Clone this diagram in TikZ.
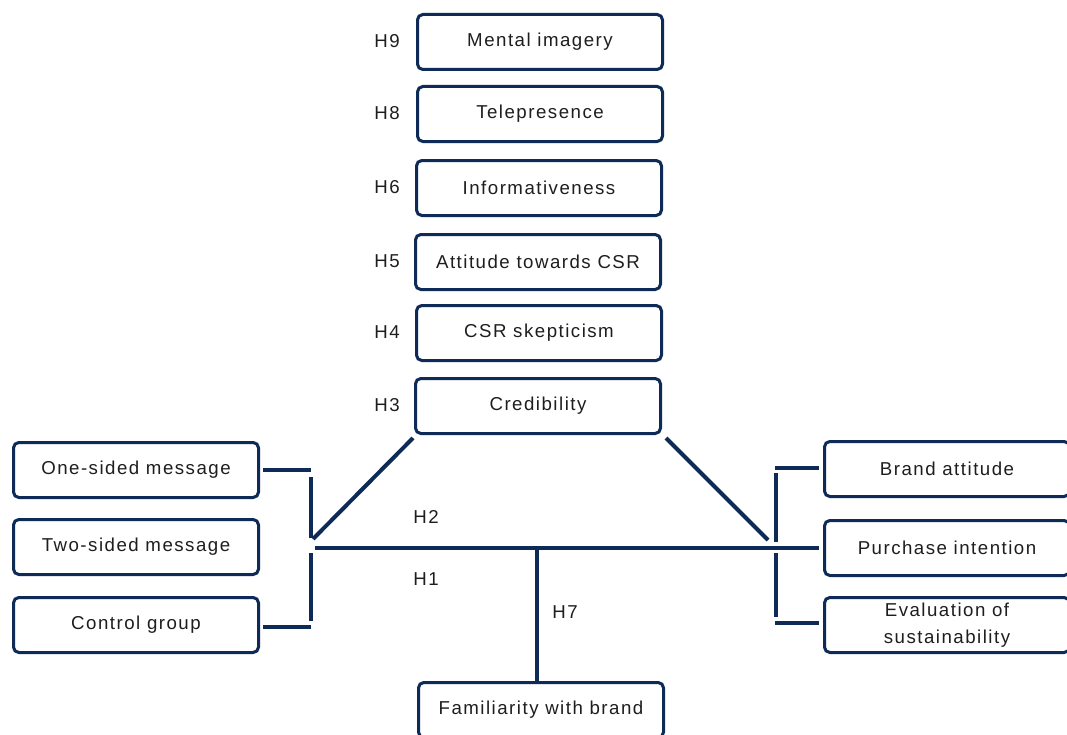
\documentclass[tikz,border=0pt]{standalone}
\usepackage{fontspec}
\setmainfont{Liberation Sans}[LetterSpace=8]
\usetikzlibrary{calc}
\definecolor{navy}{RGB}{14,42,86}
\definecolor{ink}{RGB}{30,30,30}

\begin{document}
\begin{tikzpicture}[x=0.75pt, y=-0.75pt,
    box/.style={rectangle, draw=navy, line width=2.25pt, rounded corners=4pt, fill=white, text=ink, minimum width=183.75pt, minimum height=41.25pt, align=center, font=\fontsize{14}{20}\selectfont},
    hyp/.style={text=ink, font=\fontsize{14}{15}\selectfont},
    link/.style={draw=navy, line width=3pt}
]

% Page frame
\useasboundingbox[fill=white] (0,0) rectangle (1067,735);

% Mediator stack
\node[box] (imagery) at (540,42) {Mental imagery};
\node[box] (telep) at (540,114) {Telepresence};
\node[box] (inform) at (539,188) {Informativeness};
\node[box] (attcsr) at (538,262) {Attitude towards CSR};
\node[box] (skept) at (539,333) {CSR skepticism};
\node[box] (cred) at (538,406) {Credibility};

% Hypothesis labels
\node[hyp] (h9) at (387,41) {H9};
\node[hyp] (h8) at (387,113) {H8};
\node[hyp] (h6) at (387,187) {H6};
\node[hyp] (h5) at (387,261) {H5};
\node[hyp] (h4) at (387,332) {H4};
\node[hyp] (h3) at (387,405) {H3};

% Message conditions
\node[box] (onesided) at (136,470) {One-sided message};
\node[box] (twosided) at (136,547) {Two-sided message};
\node[box] (control) at (136,625) {Control group};

% Outcomes
\node[box] (brandatt) at (947,469) {Brand attitude};
\node[box] (purchase) at (947,548) {Purchase intention};
\node[box] (evalsust) at (947,625) {Evaluation of\\sustainability};

% Moderator
\node[box] (familiar) at (541,710) {Familiarity with brand};

% Junction points
\coordinate (lbar) at (311,548);
\coordinate (rbar) at (776,548);
\coordinate (lhub) at (315,548);
\coordinate (h7top) at (537,548);

% Left bracket
\draw[link] ($(onesided.east)+(3,0)$) -- (onesided.east -| lbar);
\draw[link] ($(onesided.east -| lbar)+(0,7)$) -- ($(lbar)+(0,-10)$);
\draw[link] ($(lbar)+(0,5)$) -- ($(control.east -| lbar)+(0,-4)$);
\draw[link] ($(control.east)+(3,2)$) -- ($(control.east -| lbar)+(0,2)$);

% Right bracket
\draw[link] ($(rbar |- brandatt.west)+(-1,-1)$) -- ($(brandatt.west)+(-4,-1)$);
\draw[link] ($(rbar |- brandatt.west)+(0,4)$) -- ($(rbar)+(0,-6)$);
\draw[link] ($(rbar)+(0,5)$) -- ($(rbar |- evalsust.west)+(0,-8)$);
\draw[link] ($(rbar |- evalsust.west)+(-1,-2)$) -- ($(evalsust.west)+(-4,-2)$);

% Main paths
\draw[link] (lhub) -- ($(purchase.west)+(-4,0)$);
\draw[link] ($(cred.south west)+(-1,3)$) -- ($(lhub)+(-2,-9)$);
\draw[link] ($(cred.south east)+(4,3)$) -- ($(rbar)+(-8,-8)$);
\draw[link] (h7top) -- (h7top |- familiar.north);

% Path labels
\node[hyp] (h2) at (426,517) {H2};
\node[hyp] (h1) at (426,579) {H1};
\node[hyp] (h7) at (565,612) {H7};

\end{tikzpicture}
\end{document}
